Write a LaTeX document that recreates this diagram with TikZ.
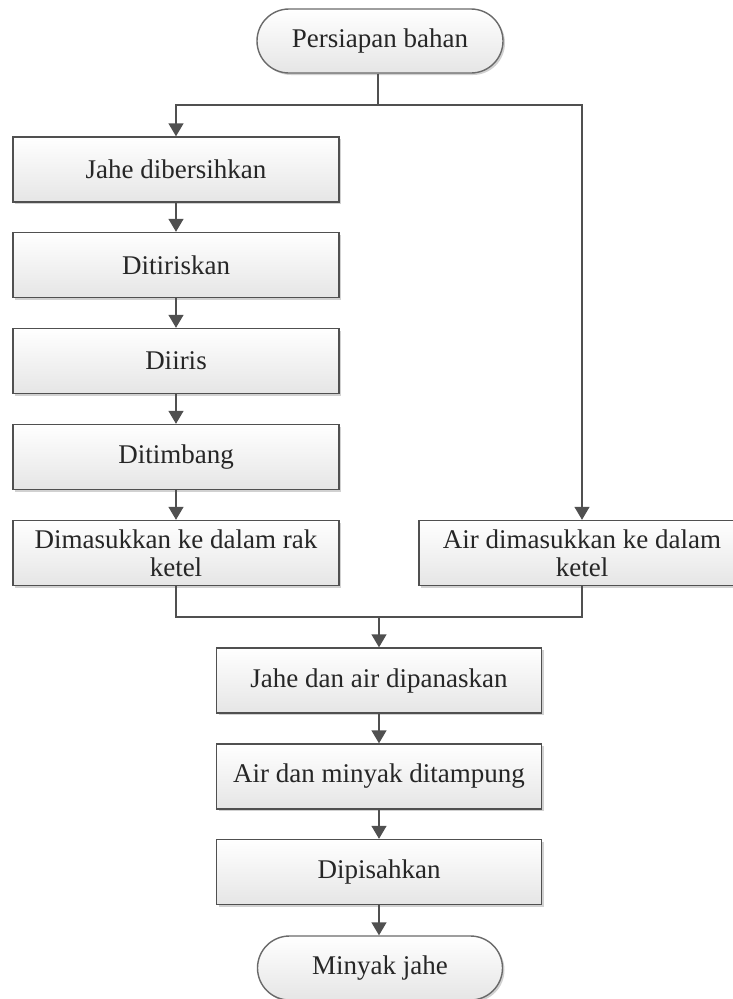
\documentclass[tikz,border=0pt]{standalone}
\usepackage{fontspec}
\setmainfont{Liberation Serif}
\usetikzlibrary{arrows.meta,shadows}
\definecolor{edge}{HTML}{505050}
\definecolor{txt}{HTML}{262626}
\tikzset{
  base/.style={draw=edge, line width=1.4pt, top color=white, bottom color=black!10,
    text=txt, font=\fontsize{27}{28}\selectfont, align=center, inner sep=0pt,
    drop shadow={shadow xshift=2pt, shadow yshift=-2pt, opacity=0.18, fill=black}},
  procbox/.style={base, rectangle, minimum width=326pt, minimum height=65pt},
  termbox/.style={base, draw=edge!85, rectangle, rounded corners=32pt, minimum height=64pt},
  conn/.style={draw=edge, line width=1.4pt},
  arr/.style={conn, -{Triangle[width=15pt,length=13pt]}}
}
\begin{document}
\begin{tikzpicture}[x=1pt,y=-1pt]
\useasboundingbox (0,0) rectangle (733,999);
\clip (0,0) rectangle (733,999);
\node[termbox, minimum width=246pt] (start) at (380,41) {Persiapan bahan};
\node[procbox] (b1) at (176,169.5) {Jahe dibersihkan};
\node[procbox] (b2) at (176,265) {Ditiriskan};
\node[procbox] (b3) at (176,361) {Diiris};
\node[procbox] (b4) at (176,457) {Ditimbang};
\node[procbox] (b5) at (176,553) {Dimasukkan ke dalam rak\\ketel};
\node[procbox] (r1) at (582,553) {Air dimasukkan ke dalam\\ketel};
\node[procbox, minimum width=325pt] (p1) at (379,680.5) {Jahe dan air dipanaskan};
\node[procbox, minimum width=325pt] (p2) at (379,776.5) {Air dan minyak ditampung};
\node[procbox, minimum width=325pt] (p3) at (379,872) {Dipisahkan};
\node[termbox, minimum width=245pt] (end) at (380,968) {Minyak jahe};
\coordinate (branch) at (378,105);
\coordinate (join) at (379,617);
\draw[conn] (start.south -| branch) -- (branch);
\draw[arr] (branch) -| (b1.north);
\draw[arr] (branch) -| (r1.north);
\draw[arr] (b1) -- (b2);
\draw[arr] (b2) -- (b3);
\draw[arr] (b3) -- (b4);
\draw[arr] (b4) -- (b5);
\draw[conn] (b5.south) |- (join) -| (r1.south);
\draw[arr] (join) -- (p1.north);
\draw[arr] (p1) -- (p2);
\draw[arr] (p2) -- (p3);
\draw[arr] (p3.south) -- (p3.south |- end.north);
\end{tikzpicture}
\end{document}
